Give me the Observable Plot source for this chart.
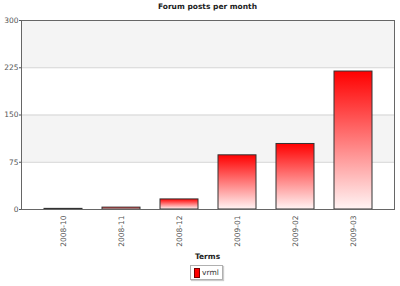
<!DOCTYPE html>
<html><head>
<meta charset="utf-8">
<script src="https://cdn.jsdelivr.net/npm/d3@7"></script>
<script src="https://cdn.jsdelivr.net/npm/@observablehq/plot@0.6"></script>
<style>
html,body{margin:0;padding:0;background:#fff;}
body{position:relative;width:400px;height:286px;overflow:hidden;font-family:"DejaVu Sans",Verdana,sans-serif;}
#title{position:absolute;left:0;top:1px;width:415px;text-align:center;font-weight:bold;font-size:7.5px;line-height:12px;color:#222;}
#chart{position:absolute;left:0;top:16px;}
#xtitle{position:absolute;left:0;top:251px;width:415px;text-align:center;font-weight:bold;font-size:7.5px;line-height:12px;color:#222;}
#legend{position:absolute;left:190px;top:265px;width:31px;height:13px;border:1px solid #b0b0b0;box-shadow:1px 1px 1px #ccc;font-size:7.5px;color:#333;}
#legend .sw{position:absolute;left:3px;top:2px;width:4px;height:8px;background:#ff0000;border:1px solid #700;}
#legend .lb{position:absolute;left:11px;top:1px;line-height:11px;}
</style>
</head><body>
<div id="title"></div>
<div id="chart"></div>
<div id="xtitle"></div>
<div id="legend"><span class="sw"></span><span class="lb"></span></div>
<script>
const chartTitle = "Forum posts per month";
const xTitle = "Terms";
const seriesName = "vrml";
const months = ["2008-10","2008-11","2008-12","2009-01","2009-02","2009-03"];
const posts = [1, 3, 16, 86, 104, 219];
const yTicks = [0, 75, 150, 225, 300];

const data = months.map((m, i) => ({month: m, posts: posts[i]}));
const shaded = [];
for (let i = yTicks.length - 1; i > 0; i -= 2) shaded.push({lo: yTicks[i-1], hi: yTicks[i]});

document.getElementById("title").textContent = chartTitle;
document.getElementById("xtitle").textContent = xTitle;
document.querySelector("#legend .lb").textContent = seriesName;

const svg = Plot.plot({
  width: 400,
  height: 234,
  marginLeft: 21,
  marginRight: 6,
  marginTop: 4,
  marginBottom: 41,
  style: {fontFamily: "'DejaVu Sans', Verdana, sans-serif", fontSize: "7.5px", color: "#555", background: "transparent"},
  x: {domain: months, paddingInner: 0.35, paddingOuter: 0.35, label: null},
  y: {domain: [0, 300], label: null},
  marks: [
    Plot.rect(shaded, {y1: "lo", y2: "hi", fill: "#f4f4f4"}),
    Plot.ruleY(yTicks.slice(1, -1), {stroke: "#d4d4d4"}),
    Plot.barY(data, {x: "month", y: "posts", fill: "url(#barGrad)", stroke: "#333", strokeWidth: 1}),
    Plot.frame({stroke: "#666"}),
    Plot.ruleX([0], {frameAnchor: "left", stroke: "#333", strokeWidth: 1.5}),
    Plot.axisY({ticks: yTicks, tickSize: 2, tickPadding: 1, fill: "#555", label: null}),
    Plot.axisX({tickRotate: -90, tickSize: 0, tickPadding: 6, fill: "#555", label: null})
  ]
});
const ns = "http://www.w3.org/2000/svg";
const defs = document.createElementNS(ns, "defs");
const grad = document.createElementNS(ns, "linearGradient");
grad.setAttribute("id", "barGrad");
grad.setAttribute("x1", "0"); grad.setAttribute("y1", "0");
grad.setAttribute("x2", "0"); grad.setAttribute("y2", "1");
[["0", "#ff0000"], ["1", "#fff4f4"]].forEach(([o, c]) => {
  const s = document.createElementNS(ns, "stop");
  s.setAttribute("offset", o); s.setAttribute("stop-color", c);
  grad.appendChild(s);
});
defs.appendChild(grad);
svg.insertBefore(defs, svg.firstChild);
document.getElementById("chart").appendChild(svg);
</script>
</body></html>
